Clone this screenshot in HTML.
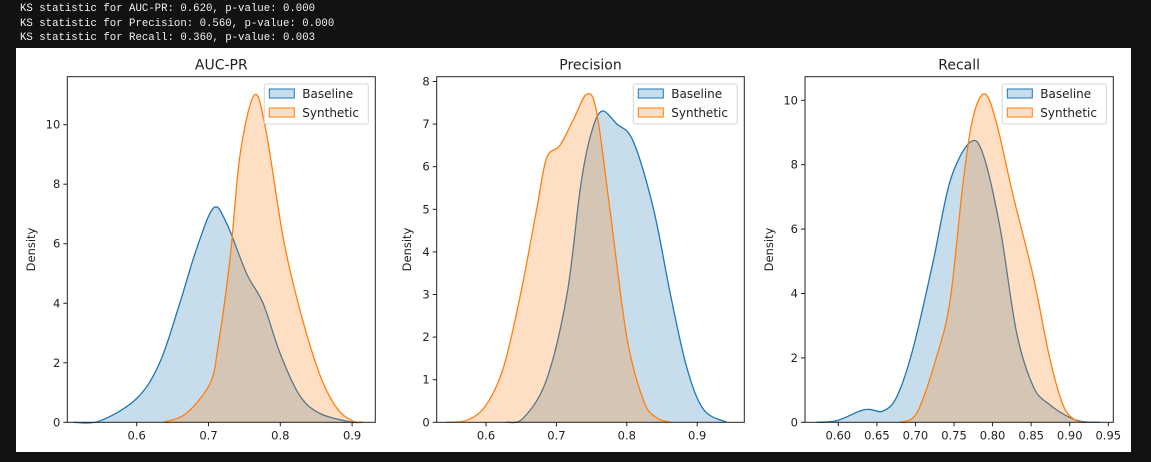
<!DOCTYPE html>
<html><head><meta charset="utf-8">
<style>
html,body{margin:0;padding:0;background:#121212;width:1151px;height:462px;overflow:hidden}
#log{position:absolute;left:20px;top:2px;font-family:"Liberation Mono",monospace;font-size:10.7px;line-height:14.7px;color:#f0f0f0;white-space:pre}
#fig{position:absolute;left:16px;top:48px;width:1115px;height:404px;background:#fff}
svg{position:absolute;left:0;top:0}
text{font-family:"DejaVu Sans","Liberation Sans",sans-serif;fill:#222}
</style></head><body>
<div id="log">KS statistic for AUC-PR: 0.620, p-value: 0.000
KS statistic for Precision: 0.560, p-value: 0.000
KS statistic for Recall: 0.360, p-value: 0.003</div>
<div id="fig"></div>
<svg id="chart" width="1151" height="462"></svg>
<script>
// AUC-PR
const aucBaseX=[0.512,0.549,0.6,0.632,0.66,0.683,0.707,0.725,0.753,0.776,0.8,0.827,0.855,0.896,0.915];
const aucBaseY=[0,0.05,0.8,2.0,4.0,5.8,7.2,6.7,5.0,4.0,2.3,0.9,0.3,0.02,0];
const aucSynX=[0.637,0.669,0.702,0.713,0.73,0.744,0.764,0.78,0.804,0.827,0.855,0.878,0.9,0.915];
const aucSynY=[0,0.3,1.3,2.5,5.5,9,11.0,9.8,6.2,3.8,1.6,0.5,0.05,0];
// Precision
const precBaseX=[0.629,0.653,0.686,0.715,0.734,0.748,0.764,0.786,0.809,0.838,0.862,0.885,0.909,0.942];
const precBaseY=[0,0.1,1.0,3.0,5.5,6.7,7.3,7.0,6.6,5.0,3.0,1.3,0.3,0];
const precSynX=[0.544,0.573,0.6,0.625,0.649,0.672,0.686,0.705,0.724,0.743,0.757,0.776,0.8,0.824,0.843,0.862];
const precSynY=[0,0.05,0.4,1.3,3.0,5.0,6.2,6.5,7.1,7.7,7.3,5.0,2.0,0.5,0.1,0];
// Recall
const recBaseX=[0.572,0.598,0.628,0.641,0.658,0.676,0.697,0.723,0.745,0.771,0.788,0.81,0.831,0.853,0.874,0.9,0.918,0.939];
const recBaseY=[0,0.05,0.35,0.4,0.35,0.8,2.3,5.0,7.5,8.7,8.3,6.0,2.8,1.1,0.55,0.15,0.02,0];
const recSynX=[0.68,0.702,0.727,0.745,0.762,0.775,0.79,0.805,0.827,0.853,0.874,0.892,0.909,0.925];
const recSynY=[0,0.3,2.0,3.8,7.5,9.5,10.2,9.3,7.0,4.5,2.0,0.5,0.05,0];
const aucXTicks=[0.6,0.7,0.8,0.9], aucYTicks=[0,2,4,6,8,10];
const precXTicks=[0.6,0.7,0.8,0.9], precYTicks=[0,1,2,3,4,5,6,7,8];
const recXTicks=[0.60,0.65,0.70,0.75,0.80,0.85,0.90,0.95], recYTicks=[0,2,4,6,8,10];

const NS='http://www.w3.org/2000/svg';
const svg=document.getElementById('chart');
function mk(tag,attrs,parent){const e=document.createElementNS(NS,tag);for(const k in attrs)e.setAttribute(k,attrs[k]);(parent||svg).appendChild(e);return e;}
function smooth(pts){let d='M'+pts[0][0]+','+pts[0][1];for(let i=0;i<pts.length-1;i++){const p0=pts[i-1]||pts[i],p1=pts[i],p2=pts[i+1],p3=pts[i+2]||p2;
const c1x=p1[0]+(p2[0]-p0[0])/6,c1y=p1[1]+(p2[1]-p0[1])/6,c2x=p2[0]-(p3[0]-p1[0])/6,c2y=p2[1]-(p3[1]-p1[1])/6;
d+=` C${c1x},${c1y} ${c2x},${c2y} ${p2[0]},${p2[1]}`;}return d;}
function panel(cfg){
 const g=mk('g',{});
 
 
 const sx=v=>cfg.x0px+(v-cfg.x0)*cfg.xs, sy=v=>cfg.y0px-v*cfg.ys;
 const series=[[cfg.bx,cfg.by,'#1f77b4','baseline'],[cfg.sx,cfg.sy,'#ff7f0e','synthetic']];
 series.forEach(s=>{
  const pts=s[0].map((x,i)=>[sx(x),sy(s[1][i])]);
  const d=smooth(pts);
  const f=mk('path',{d:d+` L${pts[pts.length-1][0]},${sy(0)} L${pts[0][0]},${sy(0)} Z`,fill:s[2],'fill-opacity':0.25,stroke:'none'},g);
  
  
  const l=mk('path',{d:d,fill:'none',stroke:s[2],'stroke-width':1.3},g);
  
  
 });
 const fr=mk('rect',{x:cfg.L,y:cfg.T,width:cfg.R-cfg.L,height:cfg.B-cfg.T,fill:'none',stroke:'#222','stroke-width':1},g);
 
 
 cfg.xt.forEach(v=>{const x=sx(v);mk('line',{x1:x,x2:x,y1:cfg.B,y2:cfg.B+4,stroke:'#222'},g);
  const t=mk('text',{x:x,y:cfg.B+17,'font-size':11.5,'text-anchor':'middle'},g);t.textContent=v.toFixed(cfg.xd);
  });
 cfg.yt.forEach(v=>{const y=sy(v);mk('line',{x1:cfg.L-4,x2:cfg.L,y1:y,y2:y,stroke:'#222'},g);
  const t=mk('text',{x:cfg.L-7,y:y+4,'font-size':11.5,'text-anchor':'end'},g);t.textContent=v;
  });
 const ti=mk('text',{x:(cfg.L+cfg.R)/2,y:cfg.T-7,'font-size':14,'text-anchor':'middle'},g);ti.textContent=cfg.title;
 
 const yl=mk('text',{x:0,y:0,'font-size':11.5,'text-anchor':'middle',transform:`translate(${cfg.ylx},${(cfg.T+cfg.B)/2}) rotate(-90)`},g);yl.textContent='Density';
 
 const lg=mk('g',{},g);
 
 const lx=cfg.R-111;
 mk('rect',{x:lx,y:84,width:104,height:40,rx:2,fill:'#fff','fill-opacity':0.8,stroke:'#d6d6d6'},lg);
 [['Baseline','#1f77b4'],['Synthetic','#ff7f0e']].forEach((e,i)=>{
  const y=89+i*19;
  const p=mk('rect',{x:lx+5,y:y,width:25,height:9,fill:e[1],'fill-opacity':0.25,stroke:e[1]},lg);
  
  const t=mk('text',{x:lx+38,y:y+9,'font-size':12},lg);t.textContent=e[0];
  
 });
}
panel({name:'auc-pr',title:'AUC-PR',L:67.3,R:375.3,T:76.7,B:422.3,x0:0.6,x0px:136.7,xs:718,y0px:422.3,ys:29.76,xd:1,ylx:35,
 bx:aucBaseX,by:aucBaseY,sx:aucSynX,sy:aucSynY,xt:aucXTicks,yt:aucYTicks});
panel({name:'precision',title:'Precision',L:436.7,R:744.3,T:76.7,B:422.3,x0:0.6,x0px:486,xs:704,y0px:422.3,ys:42.6,xd:1,ylx:411,
 bx:precBaseX,by:precBaseY,sx:precSynX,sy:precSynY,xt:precXTicks,yt:precYTicks});
panel({name:'recall',title:'Recall',L:805,R:1113.3,T:76.7,B:422.3,x0:0.6,x0px:838.3,xs:771.4,y0px:422.3,ys:32.2,xd:2,ylx:773,
 bx:recBaseX,by:recBaseY,sx:recSynX,sy:recSynY,xt:recXTicks,yt:recYTicks});
</script>
</body></html>
